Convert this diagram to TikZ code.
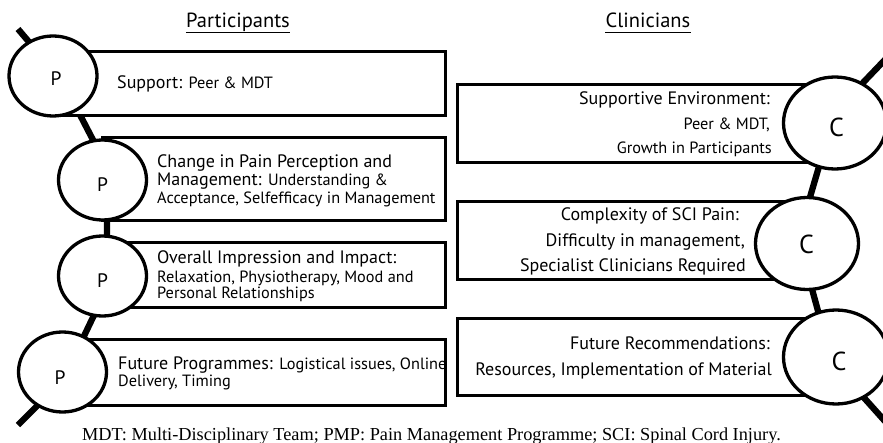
\documentclass[tikz,border=0pt]{standalone}
\usepackage{fontspec}
\setmainfont{Liberation Serif}
\newfontfamily\themefont{PT Sans}
\usetikzlibrary{shapes.geometric}
\newcommand\themehead{\fontsize{18}{20}\selectfont}
\newcommand\themebody{\fontsize{16.3}{20}\selectfont}
\begin{document}
\begin{tikzpicture}[x=1pt,y=-1pt,
  spine/.style={line width=6.3pt, line cap=butt, line join=round},
  themebox/.style={draw, line width=3pt, fill=white, rectangle, inner sep=0pt},
  badge/.style={draw, line width=3.3pt, fill=white, ellipse, inner sep=0pt},
  pletter/.style={font=\themefont\fontsize{19.5}{20}\selectfont},
  cletter/.style={font=\themefont\fontsize{26}{28}\selectfont},
  lline/.style={anchor=base west, inner sep=0pt, font=\themefont},
  rline/.style={anchor=base east, inner sep=0pt, font=\themefont},
  heading/.style={anchor=base, inner sep=0pt, font=\themefont\fontsize{20.5}{22}\selectfont}]
\useasboundingbox (0,0) rectangle (883,443);
\clip (0,0) rectangle (883,443);

% headings
\node[heading] (hp) at (238,28) {Participants};
\node[heading] (hc) at (648,28) {Clinicians};
\draw[line width=1.3pt] ([yshift=-4.5pt]hp.base west) -- ([yshift=-4.5pt]hp.base east);
\draw[line width=1.3pt] ([yshift=-4.5pt]hc.base west) -- ([yshift=-4.5pt]hc.base east);

% chain points
\coordinate (ls0) at (18,29);
\coordinate (ls1) at (63,82);
\coordinate (ls2) at (107,167);
\coordinate (ls3) at (107,288);
\coordinate (ls4) at (63,380);
\coordinate (ls5) at (18,425);
\coordinate (rs0) at (900,44);
\coordinate (rs1) at (835,112);
\coordinate (rs2) at (798,238);
\coordinate (rs3) at (832,362);
\coordinate (rs4) at (900,438);
\draw[spine] (ls0) -- (ls1) -- (ls2) -- (ls3) -- (ls4) -- (ls5);
\draw[spine] (rs0) -- (rs1) -- (rs2) -- (rs3) -- (rs4);

% theme boxes
\node[themebox, minimum width=392pt, minimum height=64pt] (b1) at (249,84) {};
\node[themebox, minimum width=343pt, minimum height=83pt] (b2) at (273.5,179.5) {};
\node[themebox, minimum width=343pt, minimum height=65pt] (b3) at (273.5,275.5) {};
\node[themebox, minimum width=383pt, minimum height=65pt] (b4) at (253.5,372.5) {};
\node[themebox, minimum width=379pt, minimum height=78pt] (r1) at (646.5,124) {};
\node[themebox, minimum width=350pt, minimum height=78pt] (r2) at (632,241) {};
\node[themebox, minimum width=381pt, minimum height=76pt] (r3) at (647.5,357) {};

% badges
\node[badge, minimum width=88pt, minimum height=80pt] (p1) at (53,76) {};
\node[badge, minimum width=88pt, minimum height=80pt] (p2) at (102.5,180) {};
\node[badge, minimum width=88pt, minimum height=80pt] (p3) at (102.5,276) {};
\node[badge, minimum width=88pt, minimum height=80pt] (p4) at (62.5,372) {};
\node[badge, minimum width=103pt, minimum height=92pt] (c1) at (835,123) {};
\node[badge, minimum width=103pt, minimum height=92pt] (c2) at (807,243.5) {};
\node[badge, minimum width=105pt, minimum height=94pt] (c3) at (836,357) {};
\node[pletter] (p1l) at (56,79) {P};
\node[pletter] (p2l) at (102.5,185) {P};
\node[pletter] (p3l) at (102.5,280.5) {P};
\node[pletter] (p4l) at (60,378) {P};
\node[cletter] (c1l) at (836.5,127) {C};
\node[cletter] (c2l) at (806.5,244) {C};
\node[cletter] (c3l) at (839,361) {C};

% participant themes
\node[lline] (l1a) at (117,88.3) {\themehead Support: \themebody Peer \& MDT};
\node[lline] (l2a) at (157,167.7) {\themehead Change in Pain Perception and};
\node[lline] (l2b) at (157,185.7) {\themehead Management: \themebody Understanding \&};
\node[lline] (l2c) at (157,203.3) {\themebody Acceptance, Selfefficacy in Management};
\node[lline] (l3a) at (157,264) {\themehead Overall Impression and Impact:};
\node[lline] (l3b) at (157,282.3) {\themebody Relaxation, Physiotherapy, Mood and};
\node[lline] (l3c) at (157,298.3) {\themebody Personal Relationships};
\node[lline] (l4a) at (118,369.3) {\themehead Future Programmes: \themebody Logistical issues, Online};
\node[lline] (l4b) at (118,386) {\themebody Delivery, Timing};

% clinician themes
\node[rline] (r1a) at (770,105) {\themehead Supportive Environment:};
\node[rline] (r1b) at (770,129.5) {\themebody Peer \& MDT,};
\node[rline] (r1c) at (772,153.5) {\themebody Growth in Participants};
\node[rline] (r2a) at (739,220.5) {\themehead Complexity of SCI Pain:};
\node[rline] (r2b) at (745,246.5) {\themehead Difficulty in management,};
\node[rline] (r2c) at (746,272) {\themehead Specialist Clinicians Required};
\node[rline] (r3a) at (770,349) {\themehead Future Recommendations:};
\node[rline] (r3b) at (772,375) {\themehead Resources, Implementation of Material};

% abbreviations
\node[anchor=base, inner sep=0pt, font=\fontsize{18.3}{20}\selectfont] (note) at (431.5,440)
  {MDT: Multi-Disciplinary Team; PMP: Pain Management Programme; SCI: Spinal Cord Injury.};
\end{tikzpicture}
\end{document}
